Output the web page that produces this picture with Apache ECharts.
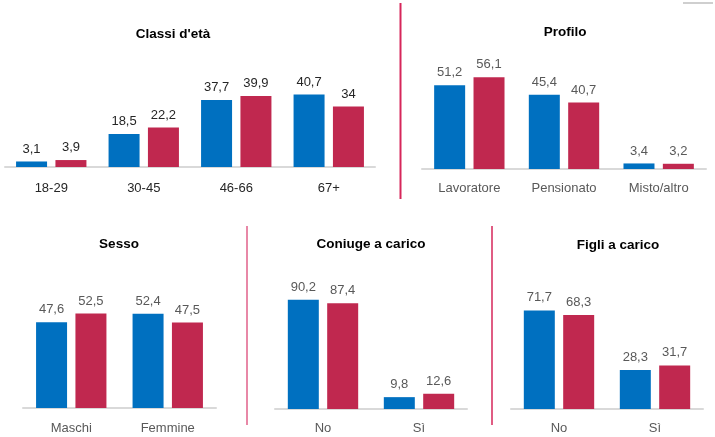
<!DOCTYPE html>
<html>
<head>
<meta charset="utf-8">
<script src="https://cdn.jsdelivr.net/npm/echarts@6/dist/echarts.min.js"></script>
<style>
  html, body { margin: 0; padding: 0; background: #fff; }
  #chart { width: 715px; height: 437px; }
</style>
</head>
<body>
<div id="chart"></div>
<script>
// dati
const ageCats = ["18-29", "30-45", "46-66", "67+"];
const ageA = [3.1, 18.5, 37.7, 40.7];
const ageB = [3.9, 22.2, 39.9, 34];

const profCats = ["Lavoratore", "Pensionato", "Misto/altro"];
const profA = [51.2, 45.4, 3.4];
const profB = [56.1, 40.7, 3.2];

const sexCats = ["Maschi", "Femmine"];
const sexA = [47.6, 52.4];
const sexB = [52.5, 47.5];

const coniugeCats = ["No", "Sì"];
const coniugeA = [90.2, 9.8];
const coniugeB = [87.4, 12.6];

const figliCats = ["No", "Sì"];
const figliA = [71.7, 28.3];
const figliB = [68.3, 31.7];

const BLUE = "#0070C0";
const RED = "#C0284F";
const FONT = "Liberation Sans";

// pannelli: griglia, titolo, massimo asse y
const panels = [
  { title: "Classi d'età", tx: 173, ty: 27, cats: ageCats, a: ageA, b: ageB,
    grid: { left: 5, width: 370, top: 78, bottom: 270 }, max: 50, labelColor: "#262626", margin: 15 },
  { title: "Profilo", tx: 565, ty: 25, cats: profCats, a: profA, b: profB,
    grid: { left: 422, width: 284, top: 71, bottom: 268 }, max: 60, labelColor: "#595959", margin: 13 },
  { title: "Sesso", tx: 119, ty: 237, cats: sexCats, a: sexA, b: sexB,
    grid: { left: 23, width: 193, top: 300, bottom: 29 }, max: 60, labelColor: "#595959", margin: 14 },
  { title: "Coniuge a carico", tx: 371, ty: 237, cats: coniugeCats, a: coniugeA, b: coniugeB,
    grid: { left: 275, width: 192, top: 288, bottom: 28 }, max: 100, labelColor: "#595959", margin: 13 },
  { title: "Figli a carico", tx: 618, ty: 238, cats: figliCats, a: figliA, b: figliB,
    grid: { left: 511, width: 192, top: 299, bottom: 28 }, max: 80, labelColor: "#595959", margin: 13 }
];

function fmt(p) {
  return String(p.value).replace(".", ",");
}

const option = {
  animation: false,
  backgroundColor: "#fff",
  title: panels.map(p => ({
    text: p.title,
    left: p.tx,
    top: p.ty,
    textAlign: "center",
    padding: 0,
    textStyle: { fontFamily: FONT, fontSize: 13.5, fontWeight: "bold", color: "#000" }
  })),
  grid: panels.map(p => p.grid),
  xAxis: panels.map((p, i) => ({
    type: "category",
    gridIndex: i,
    data: p.cats,
    axisLine: { lineStyle: { color: "#D9D9D9", width: 2 } },
    axisTick: { show: false },
    axisLabel: { fontFamily: FONT, fontSize: 13, color: p.labelColor, margin: p.margin }
  })),
  yAxis: panels.map((p, i) => ({
    type: "value",
    gridIndex: i,
    min: 0,
    max: p.max,
    show: false
  })),
  series: [],
  graphic: [
    // separatori rossi
    { type: "line", shape: { x1: 400.5, y1: 3, x2: 400.5, y2: 199 }, style: { stroke: "#D6265A", lineWidth: 2 } },
    { type: "line", shape: { x1: 247, y1: 226, x2: 247, y2: 425 }, style: { stroke: "#E0608A", lineWidth: 1.5 } },
    { type: "line", shape: { x1: 492, y1: 226, x2: 492, y2: 425 }, style: { stroke: "#D6265A", lineWidth: 1.5 } },
    { type: "rect", shape: { x: 683, y: 2, width: 30, height: 2 }, style: { fill: "#CFCFCF" } }
  ]
};

panels.forEach((p, i) => {
  [[p.a, BLUE, "Gruppo 1"], [p.b, RED, "Gruppo 2"]].forEach(([vals, col, name]) => {
    option.series.push({
      type: "bar",
      name: name,
      xAxisIndex: i,
      yAxisIndex: i,
      data: vals,
      barWidth: 31,
      barGap: "27%",
      itemStyle: { color: col },
      label: {
        show: true,
        position: "top",
        distance: 6,
        formatter: fmt,
        fontFamily: FONT,
        fontSize: 13,
        color: p.labelColor
      }
    });
  });
});

const chart = echarts.init(document.getElementById("chart"));
chart.setOption(option);
</script>
</body>
</html>
